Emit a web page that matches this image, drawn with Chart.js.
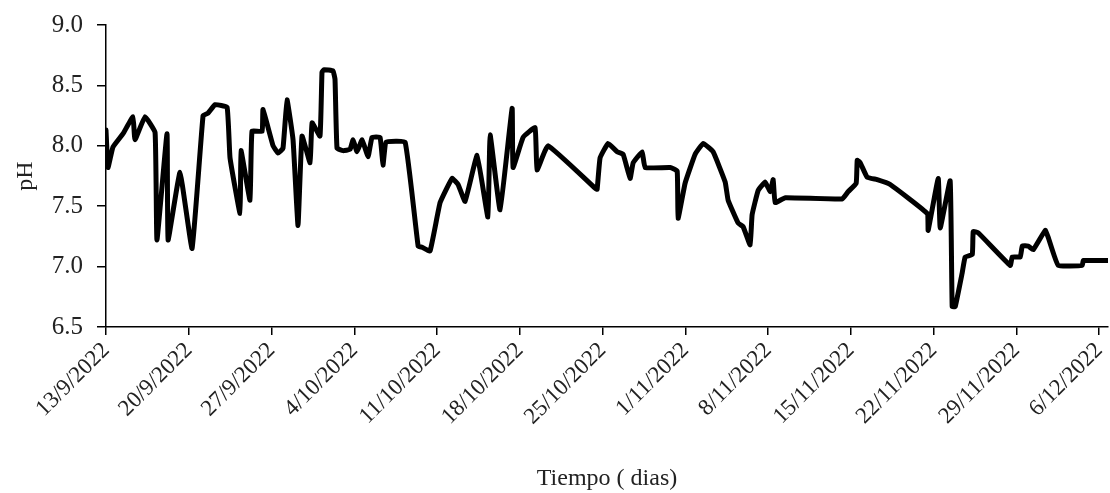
<!DOCTYPE html>
<html>
<head>
<meta charset="utf-8">
<script src="https://cdn.jsdelivr.net/npm/chart.js"></script>
<style>
    html, body { margin: 0; padding: 0; background: #fff; }
</style>
</head>
<body>
<canvas id="chart-ph" width="1110" height="493"></canvas>
<script>
// dias desde el 13/9/2022
var dias = [0, 0.17, 0.59, 1.44, 2.28, 2.45, 3.30, 4.15, 4.31, 5.16, 5.25, 6.26, 7.28, 8.21, 8.63, 9.22,
    10.24, 10.49, 11.34, 11.42, 12.18, 12.35, 13.2, 13.28, 14.13, 14.55, 14.97, 15.31, 15.82, 16.24,
    16.58, 17.26, 17.43, 18.1, 18.27, 18.44, 19.2, 19.37, 19.54, 20.05, 20.64, 20.9, 21.23, 21.66,
    22.17, 22.5, 23.18, 23.43, 23.69, 25.3, 26.4, 26.73, 27.41, 28.26, 29.27, 29.78, 30.37, 31.39,
    32.3, 32.49, 33.33, 34.35, 34.43, 35.28, 36.29, 36.46, 37.39, 41.37, 41.54, 41.79, 42.47, 43.23,
    43.74, 44.33, 44.59, 45.35, 45.6, 47.72, 48.31, 48.39, 48.98, 49.83, 50.51, 51.35, 52.37, 52.62,
    53.47, 53.89, 54.48, 54.65, 55.16, 55.75, 56.18, 56.43, 56.6, 57.45, 62.27, 62.77, 63.45, 63.54,
    63.79, 64.38, 65.23, 66.33, 69.46, 69.54, 70.39, 70.56, 71.4, 71.57, 71.83, 72.42, 72.67, 73.27,
    73.35, 73.77, 76.48, 76.65, 77.33, 77.5, 78.0, 78.43, 79.44, 79.7, 80.54, 82.57, 82.66, 84.69];

var ph = [8.13, 7.82, 7.99, 8.10, 8.24, 8.05, 8.24, 8.11, 7.22, 8.10, 7.22, 7.78, 7.15, 8.25, 8.27, 8.34,
    8.32, 7.90, 7.44, 7.96, 7.55, 8.12, 8.12, 8.30, 8.00, 7.94, 7.98, 8.38, 8.05, 7.34,
    8.08, 7.86, 8.19, 8.08, 8.61, 8.63, 8.62, 8.55, 7.98, 7.96, 7.97, 8.05, 7.95, 8.05,
    7.91, 8.07, 8.07, 7.84, 8.03, 8.03, 7.17, 7.16, 7.13, 7.53, 7.73, 7.68, 7.54, 7.92,
    7.41, 8.09, 7.47, 8.31, 7.82, 8.07, 8.15, 7.80, 8.00, 7.65, 7.64, 7.90, 8.02, 7.95,
    7.93, 7.73, 7.86, 7.95, 7.82, 7.82, 7.79, 7.40, 7.69, 7.93, 8.02, 7.95, 7.70, 7.55,
    7.36, 7.33, 7.18, 7.43, 7.63, 7.70, 7.62, 7.72, 7.53, 7.57, 7.56, 7.62, 7.69, 7.88,
    7.86, 7.74, 7.72, 7.68, 7.44, 7.30, 7.73, 7.32, 7.71, 6.67, 6.67, 6.95, 7.08, 7.10,
    7.29, 7.28, 7.01, 7.08, 7.08, 7.17, 7.17, 7.14, 7.30, 7.24, 7.01, 7.01, 7.05, 7.05];

var inicio = new Date(2022, 8, 13);
var diasMax = 84.75;
var yMin = 6.5;
var yMax = 9.0;
var yPaso = 0.5;
var xPaso = 7;

var puntos = [];
for (var i = 0; i < dias.length; i++) {
    puntos.push({x: dias[i], y: ph[i]});
}

function fecha(d) {
    var f = new Date(inicio.getTime());
    f.setDate(f.getDate() + Math.round(d));
    return f.getDate() + '/' + (f.getMonth() + 1) + '/' + f.getFullYear();
}

var fuente = "'Liberation Serif', 'Times New Roman', serif";

var config = {
    type: 'line',
    data: {
        datasets: [{
            data: puntos,
            borderColor: '#000',
            borderWidth: 5,
            borderJoinStyle: 'round',
            borderCapStyle: 'round',
            pointRadius: 0,
            tension: 0.1,
            fill: false
        }]
    },
    options: {
        responsive: false,
        animation: false,
        devicePixelRatio: 1,
        layout: {padding: {top: 25, right: 2, bottom: 0, left: 0}},
        plugins: {legend: {display: false}, tooltip: {enabled: false}},
        scales: {
            x: {
                type: 'linear',
                min: 0,
                max: diasMax,
                afterFit: function (scale) {
                    scale.height = 166;
                    scale.paddingLeft = 0;
                    scale.paddingRight = 0;
                },
                ticks: {
                    stepSize: xPaso,
                    includeBounds: false,
                    minRotation: 45,
                    maxRotation: 45,
                    padding: 2,
                    color: '#222',
                    font: {family: fuente, size: 23},
                    callback: function (v) { return fecha(v); }
                },
                grid: {display: true, drawOnChartArea: false, drawTicks: true, tickLength: 8, color: '#000', lineWidth: 1.5},
                border: {display: true, color: '#000', width: 1.5},
                title: {display: true, text: 'Tiempo ( dias)', color: '#222',
                    font: {family: fuente, size: 24}, padding: {top: 0, bottom: 0}}
            },
            y: {
                min: yMin,
                max: yMax,
                afterFit: function (scale) {
                    scale.width = 106;
                    scale.paddingTop = 0;
                    scale.paddingBottom = 0;
                },
                ticks: {
                    stepSize: yPaso,
                    padding: 14,
                    color: '#222',
                    font: {family: fuente, size: 25},
                    callback: function (v) { return v.toFixed(1); }
                },
                grid: {display: true, drawOnChartArea: false, drawTicks: true, tickLength: 9, color: '#000', lineWidth: 1.5},
                border: {display: true, color: '#000', width: 1.5},
                title: {display: true, text: 'pH', color: '#222',
                    font: {family: fuente, size: 24}, padding: {top: 11, bottom: 0}}
            }
        }
    }
};

var grafico = new Chart(document.getElementById('chart-ph').getContext('2d'), config);
</script>
</body>
</html>
